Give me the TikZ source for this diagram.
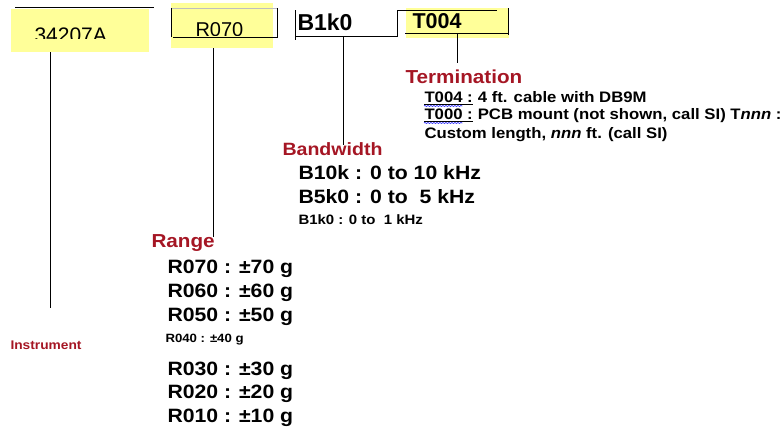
\documentclass[tikz,border=0pt]{standalone}
\usepackage{fontspec}
\setmainfont{Liberation Sans}
\newfontfamily\widesans[FakeStretch=1.1]{Liberation Sans}
\usetikzlibrary{calc,decorations.pathmorphing}
\definecolor{hilite}{RGB}{255,255,153}
\definecolor{lblred}{RGB}{165,22,36}
\tikzset{
  yellowbox/.style={fill=hilite,inner sep=0pt,anchor=north west},
  codetxt/.style={anchor=base west,inner sep=0pt,font=\fontsize{#1}{24}\selectfont},
  boldcode/.style={anchor=base west,inner sep=0pt,font=\bfseries\fontsize{#1}{26}\selectfont},
  headtxt/.style={anchor=base west,inner sep=0pt,text=lblred,font=\widesans\bfseries\fontsize{#1}{22}\selectfont},
  itemtxt/.style={anchor=base west,inner sep=0pt,font=\widesans\bfseries\fontsize{#1}{22}\selectfont},
  spell/.style={blue!85!white,decorate,decoration={snake,amplitude=0.6pt,segment length=3pt}}
}
\begin{document}
\begin{tikzpicture}[x=1pt,y=-1pt,line width=1pt]
\useasboundingbox (0,0) rectangle (781,431);
\node[yellowbox,minimum width=138pt,minimum height=43pt] (instbox) at (10,8) {};
\node[yellowbox,minimum width=102pt,minimum height=45pt] (rangebox) at (170,2) {};
\node[yellowbox,minimum width=103pt,minimum height=30pt] (termbox) at (405,7) {};
\begin{scope}
  \clip (10,8) rectangle (148,38);
  \node[codetxt=21] (instcode) at (34,42) {34207A};
\end{scope}
\begin{scope}
  \clip (170,2) rectangle (272,35);
  \node[codetxt=20] (rangecode) at (195,36.3) {R070};
\end{scope}
\node[boldcode=23] (bwcode) at (297,30) {B1k0};
\node[boldcode=21.5] (termcode) at (412,28.5) {T004};
\draw (15,7) -- (154,7);
\draw[gray!50,line width=0.5pt] (171,8) -- (277,8);
\draw (171,8) -- (171,37);
\draw (173,37) -- (277,37) -- (277,8);
\draw (295,10) -- (295,40);
\draw (295,36) -- (397,36) -- (397,10) -- (497,10);
\draw (405,33) -- (508,33);
\draw (508,8) -- (508,35);
\coordinate (instend) at (50,308);
\coordinate (rangeend) at (213,237);
\coordinate (bwbar) at (343,36);
\coordinate (bwend) at (343,145);
\coordinate (termbar) at (457,33);
\coordinate (termend) at (457,63);
\draw (instbox.south -| instend) -- (instend);
\draw (rangebox.south -| rangeend) -- (rangeend);
\draw (bwbar) -- (bwend);
\draw (termbar) -- (termend);
\node[headtxt=18.8] (termlbl) at (405,83) {Termination};
\node[itemtxt=15.2] (t1key) at (424,102) {T004 :};
\node[itemtxt=15.2] (t1txt) at ($(t1key.base east)+(4,0)$) {4 ft. cable with DB9M};
\node[itemtxt=15.2] (t2key) at (424,119) {T000 :};
\node[itemtxt=15.2] (t2txt) at ($(t2key.base east)+(4,0)$) {PCB mount (not shown, call SI) T\textit{nnn} :};
\node[itemtxt=15.2] (t3txt) at (424,138) {Custom length, \textit{nnn} ft. (call SI)};
\draw[line width=0.7pt] ($(t1key.base west)+(0,2)$) -- ($(t1key.base east)+(0,2)$);
\draw[line width=0.7pt] ($(t2key.base west)+(0,2)$) -- ($(t2key.base east)+(0,2)$);
\draw[spell,line width=0.6pt] ($(t1key.base west)+(0,4)$) -- ($(t1key.base east)+(-11,4)$);
\draw[spell,line width=0.6pt] ($(t2key.base west)+(0,4)$) -- ($(t2key.base east)+(-11,4)$);
\node[headtxt=17.8] (bwlbl) at (282,155) {Bandwidth};
\node[itemtxt=19.3] (b10k) at (298,179) {B10k : 0 to 10 kHz};
\node[itemtxt=19.3] (b5k0) at (298,203) {B5k0 : 0 to\ \ 5 kHz};
\node[itemtxt=13.6] (b1k0) at (298,224) {B1k0 : 0 to\ \ 1 kHz};
\node[headtxt=18.8] (rangelbl) at (151,247) {Range};
\node[itemtxt=19.3] (r070) at (167,273) {R070 : ±70 g};
\node[itemtxt=19.3] (r060) at (167,297) {R060 : ±60 g};
\node[itemtxt=19.3] (r050) at (167,321) {R050 : ±50 g};
\node[itemtxt=12] (r040) at (165,342) {R040 : ±40 g};
\node[itemtxt=19.3] (r030) at (167,375) {R030 : ±30 g};
\node[itemtxt=19.3] (r020) at (167,398) {R020 : ±20 g};
\node[itemtxt=19.3] (r010) at (167,422) {R010 : ±10 g};
\node[headtxt=12.5] (instlbl) at (10,349) {Instrument};
\end{tikzpicture}
\end{document}
